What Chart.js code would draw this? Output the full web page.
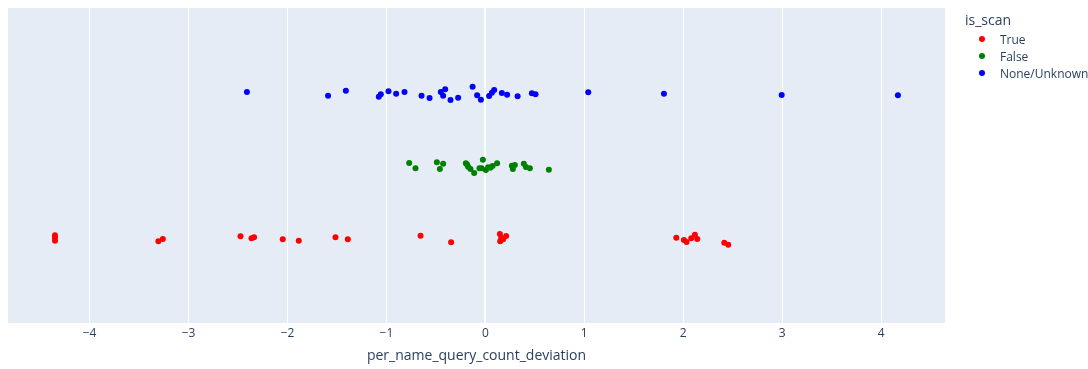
<!DOCTYPE html>
<html>
<head>
<meta charset="utf-8">
<script src="https://cdn.jsdelivr.net/npm/chart.js@4"></script>
<style>
  body { margin: 0; background: #fff; font-family: "Open Sans", verdana, arial, sans-serif; }
  #wrap { position: relative; width: 1088px; height: 369px; }
  #legend { position: absolute; left: 965px; top: 10px; color: #2a3f5f; font-size: 12px; }
  #legend .ttl { font-size: 14px; height: 20px; line-height: 20px; margin-bottom: 1px; }
  #legend .item { position: relative; height: 17px; line-height: 17px; padding-left: 35px; }
  #legend .dot { position: absolute; left: 14px; top: 5px; width: 6px; height: 6px; border-radius: 50%; }
</style>
</head>
<body>
<div id="wrap">
  <canvas id="chart" width="1088" height="369"></canvas>
  <div id="legend"></div>
</div>
<script>
const seriesNames = ['True', 'False', 'None/Unknown'];
const seriesColors = ['red', 'green', 'blue'];

// is_scan = True (row 0), y holds row + jitter
const trueX = [-4.35, -4.35, -4.35, -3.305, -3.26, -2.475, -2.364, -2.338, -2.048, -1.886,
  -1.515, -1.39, -0.655, -0.346, 0.147, 0.15, 0.18, 0.21, 0.16, 1.93,
  2.007, 2.034, 2.081, 2.118, 2.142, 2.415, 2.455];
const trueY = [0.044, 0.011, -0.030, -0.039, -0.007, 0.030, 0.003, 0.017, -0.011, -0.030,
  0.017, -0.011, 0.039, -0.052, 0.062, -0.039, -0.011, 0.034, 0.007, 0.011,
  -0.021, -0.048, 0.003, 0.052, -0.007, -0.058, -0.086];

// is_scan = False (row 1)
const falseX = [-0.77, -0.706, -0.49, -0.46, -0.427, -0.197, -0.174, -0.15, -0.113, -0.025,
  -0.038, 0.005, 0.028, 0.073, 0.119, 0.268, 0.278, 0.298, 0.389, 0.41,
  0.45, 0.642, -0.185, -0.06, 0.05];
const falseY = [1.041, 0.968, 1.051, 0.959, 1.032, 1.037, 0.990, 0.959, 0.903, 1.087,
  0.968, 0.945, 0.982, 1.000, 1.037, 1.004, 0.959, 1.014, 1.032, 0.986,
  0.968, 0.949, 1.020, 0.970, 0.975];

// is_scan = None/Unknown (row 2)
const noneX = [-2.41, -1.59, -1.41, -1.077, -1.057, -0.979, -0.902, -0.817, -0.645, -0.564,
  -0.45, -0.406, -0.427, -0.352, -0.275, -0.129, -0.083, -0.045, 0.038, 0.066,
  0.089, 0.167, 0.22, 0.326, 0.47, 0.507, 1.04, 1.805, 2.995, 4.17];
const noneY = [2.021, 1.970, 2.039, 1.956, 1.989, 2.030, 1.997, 2.021, 1.970, 1.938,
  2.021, 2.058, 1.970, 1.910, 1.942, 2.094, 1.975, 1.914, 1.966, 2.011,
  2.048, 2.007, 1.983, 1.961, 2.003, 1.989, 2.017, 1.997, 1.979, 1.975];

const xMin = -4.825, xMax = 4.646;
const yMin = -1.166, yMax = 3.179;

const allX = [trueX, falseX, noneX];
const allY = [trueY, falseY, noneY];

const datasets = seriesNames.map((name, i) => ({
  label: name,
  data: allX[i].map((x, j) => ({ x: x, y: allY[i][j] })),
  backgroundColor: seriesColors[i],
  borderWidth: 0,
  pointRadius: 3,
  pointHoverRadius: 3
}));

const plotBg = {
  id: 'plotBg',
  beforeDraw(chart) {
    const { ctx, chartArea: a } = chart;
    ctx.save();
    ctx.fillStyle = '#E5ECF6';
    ctx.fillRect(a.left, a.top, a.right - a.left, a.bottom - a.top);
    ctx.restore();
  }
};

const minus = v => (v < 0 ? '\u2212' + Math.abs(v) : String(v));

new Chart(document.getElementById('chart'), {
  type: 'scatter',
  data: { datasets },
  plugins: [plotBg],
  options: {
    responsive: false,
    animation: false,
    layout: { padding: { left: 8, top: 8, right: 143, bottom: 0 } },
    plugins: { legend: { display: false }, tooltip: { enabled: false } },
    scales: {
      x: {
        type: 'linear',
        min: xMin,
        max: xMax,
        afterFit(scale) { scale.height = 46; },
        border: { display: false },
        grid: {
          color: '#ffffff',
          lineWidth: c => (c.tick && c.tick.value === 0 ? 2 : 1),
          drawTicks: false
        },
        ticks: {
          stepSize: 1,
          includeBounds: false,
          padding: 3,
          color: '#2a3f5f',
          font: { family: '"Open Sans", verdana, arial, sans-serif', size: 12 },
          callback: minus
        },
        title: {
          display: true,
          text: 'per_name_query_count_deviation',
          color: '#2a3f5f',
          font: { family: '"Open Sans", verdana, arial, sans-serif', size: 14 },
          padding: { top: 0, bottom: 5 }
        }
      },
      y: {
        type: 'linear',
        min: yMin,
        max: yMax,
        display: false
      }
    }
  }
});

const legend = document.getElementById('legend');
legend.innerHTML = '<div class="ttl">is_scan</div>' + seriesNames.map((n, i) =>
  '<div class="item"><span class="dot" style="background:' + seriesColors[i] + '"></span>' + n + '</div>'
).join('');
</script>
</body>
</html>
